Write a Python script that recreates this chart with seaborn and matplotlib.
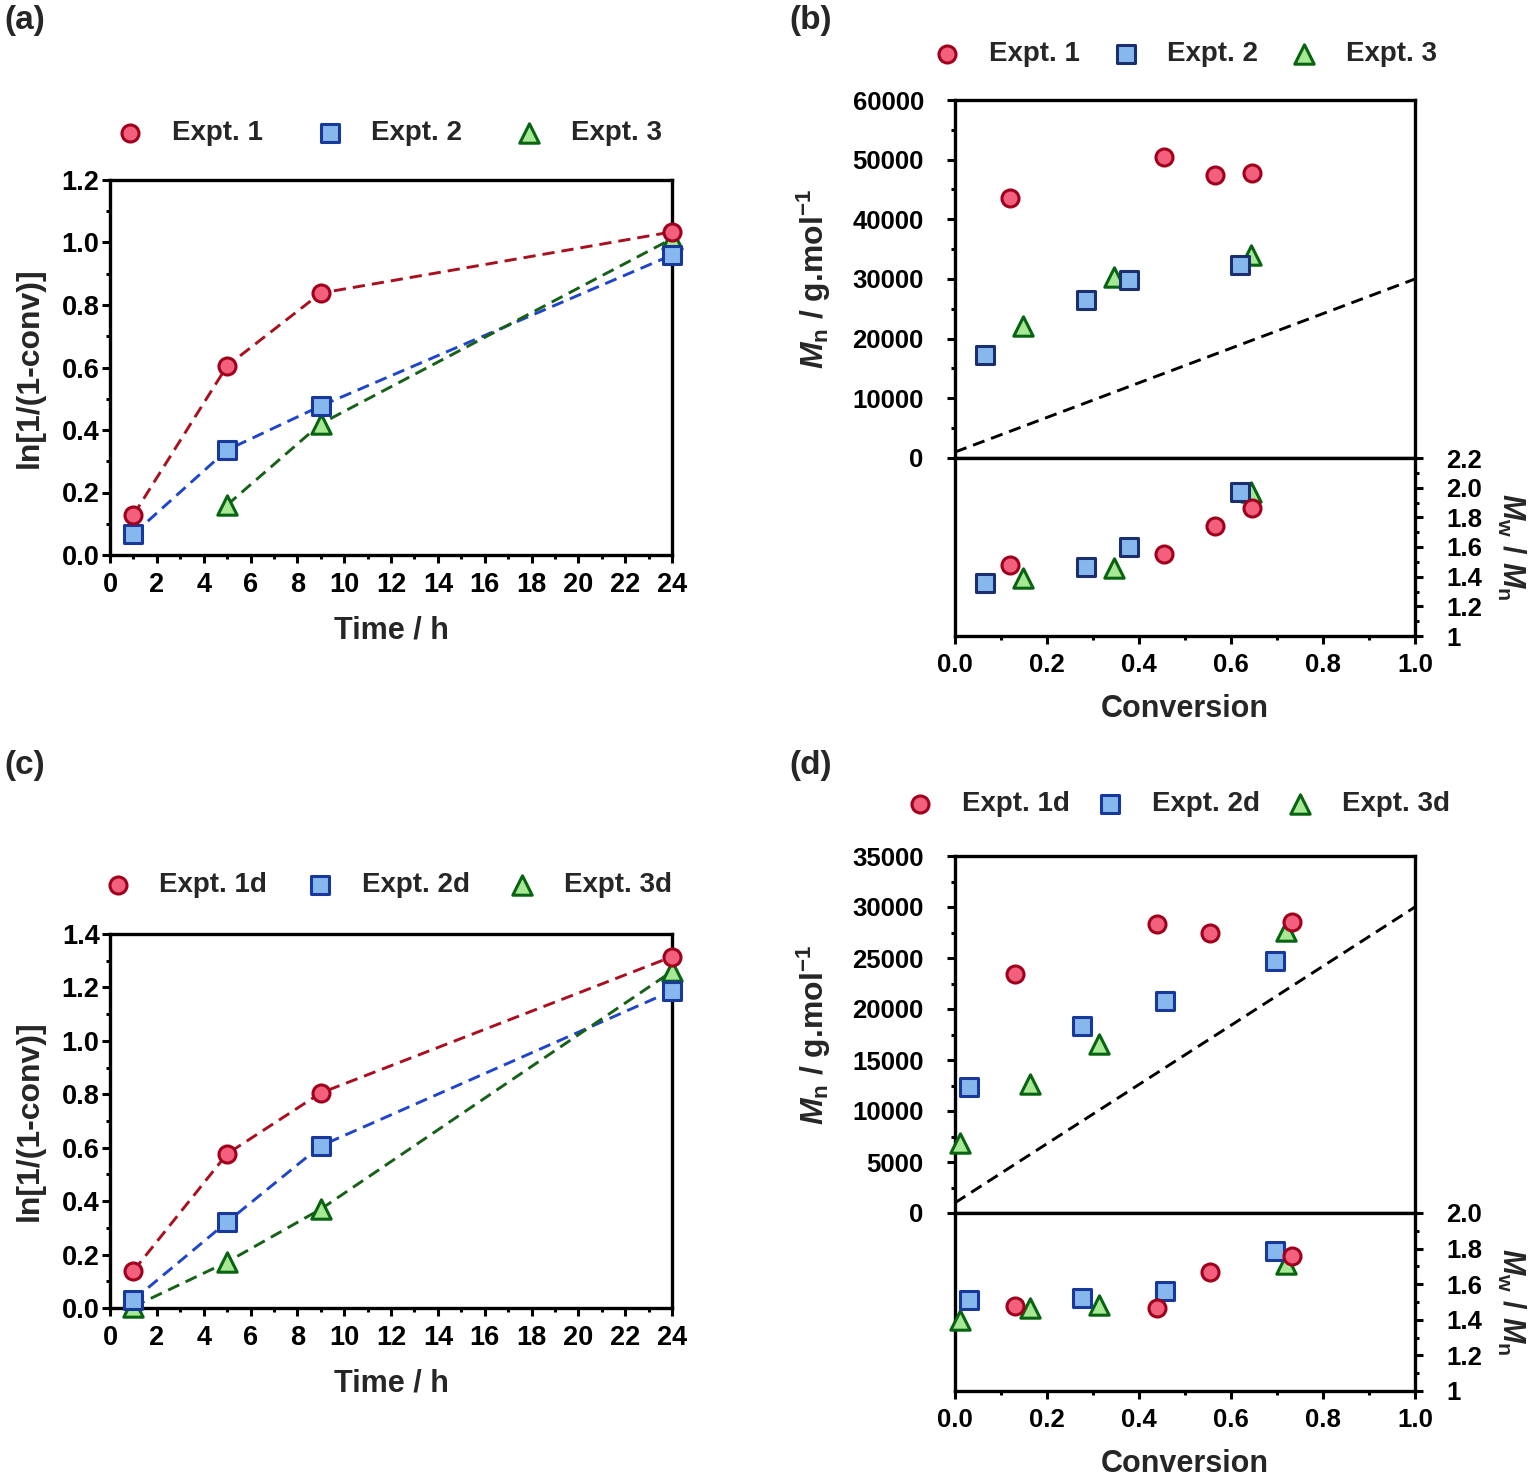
import matplotlib
matplotlib.use("Agg")
import matplotlib.pyplot as plt
from matplotlib.ticker import MultipleLocator, FixedLocator, FixedFormatter, FormatStrFormatter
import seaborn as sns

# ---------------- data ----------------
# (a) kinetics
time_a1 = [1, 5, 9, 24]
ln_a1 = [0.128, 0.605, 0.838, 1.034]
time_a2 = [1, 5, 9, 24]
ln_a2 = [0.067, 0.336, 0.477, 0.960]
time_a3 = [5, 9, 24]
ln_a3 = [0.160, 0.420, 1.012]

# (b) Mn and dispersity vs conversion
conv_b1 = [0.120, 0.454, 0.566, 0.645]
mn_b1 = [43600, 50500, 47500, 47800]
d_b1 = [1.477, 1.551, 1.743, 1.862]
conv_b2 = [0.065, 0.284, 0.378, 0.619]
mn_b2 = [17300, 26500, 29850, 32400]
d_b2 = [1.355, 1.466, 1.600, 1.973]
conv_b3 = [0.147, 0.345, 0.643]
mn_b3 = [22200, 30300, 34100]
d_b3 = [1.394, 1.461, 1.968]

# (c) kinetics
time_c1 = [1, 5, 9, 24]
ln_c1 = [0.139, 0.577, 0.805, 1.315]
time_c2 = [1, 5, 9, 24]
ln_c2 = [0.030, 0.322, 0.607, 1.187]
time_c3 = [1, 5, 9, 24]
ln_c3 = [0.005, 0.172, 0.370, 1.260]

# (d) Mn and dispersity vs conversion
conv_d1 = [0.130, 0.440, 0.555, 0.733]
mn_d1 = [23400, 28300, 27500, 28500]
d_d1 = [1.475, 1.469, 1.670, 1.758]
conv_d2 = [0.031, 0.276, 0.456, 0.695]
mn_d2 = [12350, 18350, 20800, 24700]
d_d2 = [1.510, 1.522, 1.560, 1.784]
conv_d3 = [0.010, 0.162, 0.312, 0.720]
mn_d3 = [6850, 12600, 16550, 27600]
d_d3 = [1.400, 1.465, 1.482, 1.713]

# theoretical Mn line
theo_conv = [0.0, 1.0]
theo_mn = [1000, 30000]

labels_ab = ["Expt. 1", "Expt. 2", "Expt. 3"]
labels_cd = ["Expt. 1d", "Expt. 2d", "Expt. 3d"]

mwmn_ticks_b = [1.0, 1.2, 1.4, 1.6, 1.8, 2.0, 2.2]
mwmn_labels_b = ["1", "1.2", "1.4", "1.6", "1.8", "2.0", "2.2"]
mwmn_ticks_d = [1.0, 1.2, 1.4, 1.6, 1.8, 2.0]
mwmn_labels_d = ["1", "1.2", "1.4", "1.6", "1.8", "2.0"]

# ---------------- style ----------------
sns.set_theme(style="ticks")
plt.rcParams["font.family"] = ["Liberation Sans", "DejaVu Sans"]
plt.rcParams["font.weight"] = "bold"
plt.rcParams["axes.labelweight"] = "bold"
plt.rcParams["mathtext.fontset"] = "custom"
plt.rcParams["mathtext.rm"] = "Liberation Sans:bold"
plt.rcParams["mathtext.it"] = "Liberation Sans:italic:bold"
plt.rcParams["mathtext.bf"] = "Liberation Sans:bold"
plt.rcParams["axes.linewidth"] = 2.4
plt.rcParams["xtick.major.width"] = 2.2
plt.rcParams["ytick.major.width"] = 2.2
plt.rcParams["xtick.minor.width"] = 2.2
plt.rcParams["ytick.minor.width"] = 2.2
plt.rcParams["xtick.major.size"] = 5.5
plt.rcParams["ytick.major.size"] = 5.5
plt.rcParams["xtick.minor.size"] = 3.0
plt.rcParams["ytick.minor.size"] = 3.0
plt.rcParams["xtick.color"] = "black"
plt.rcParams["ytick.color"] = "black"
plt.rcParams["axes.edgecolor"] = "black"

RED_F, RED_E, RED_L = "#f2607e", "#a0001c", "#a8101e"
BLU_F, BLU_E, BLU_L = "#86b8ee", "#18399a", "#1f45c8"
GRN_F, GRN_E, GRN_L = "#a6e894", "#086410", "#176017"
BLU_E2 = "#1b2f6e"

W, H = 1536, 1482
fig = plt.figure(figsize=(W / 100, H / 100), dpi=100)

def fx(px):
    return px / W

def fy(py):
    return 1 - py / H

DASH = (0, (4.2, 2.4))
S_CIR, S_SQ, S_TRI = 150, 150, 195
EW = 2.2


def scatter(ax, x, y, marker, face, edge, s, label=None):
    sns.scatterplot(x=x, y=y, ax=ax, marker=marker, s=s, color=face,
                    edgecolor=edge, linewidth=EW, zorder=4, clip_on=False,
                    label=label, legend=False)


def line(ax, x, y, color):
    sns.lineplot(x=x, y=y, ax=ax, color=color, linestyle=DASH, linewidth=2.1,
                 zorder=2, legend=False, errorbar=None)


def kinetics_panel(rect, series, labels, ymax, legend_xy, colsp, tick_fs=19.5):
    ax = fig.add_axes(rect)
    (t1, y1), (t2, y2), (t3, y3) = series
    line(ax, t1, y1, RED_L)
    line(ax, t2, y2, BLU_L)
    line(ax, t3, y3, GRN_L)
    scatter(ax, t3, y3, "^", GRN_F, GRN_E, S_TRI, labels[2])
    scatter(ax, t2, y2, "s", BLU_F, BLU_E, S_SQ, labels[1])
    scatter(ax, t1, y1, "o", RED_F, RED_E, S_CIR, labels[0])
    ax.set_xlim(0, 24)
    ax.set_ylim(0, ymax)
    ax.xaxis.set_major_locator(MultipleLocator(2))
    ax.xaxis.set_minor_locator(MultipleLocator(1))
    ax.yaxis.set_major_locator(MultipleLocator(0.2))
    ax.yaxis.set_minor_locator(MultipleLocator(0.1))
    ax.yaxis.set_major_formatter(FormatStrFormatter("%.1f"))
    ax.tick_params(axis="x", which="both", direction="out", labelsize=tick_fs, pad=7)
    ax.tick_params(axis="y", which="both", direction="out", labelsize=tick_fs, pad=2)
    for sp in ax.spines.values():
        sp.set_visible(True)
    ax.set_xlabel("Time / h", fontsize=22, labelpad=12)
    ax.set_ylabel("ln[1/(1-conv)]", fontsize=23, labelpad=12)
    h, l = ax.get_legend_handles_labels()
    order = [l.index(lab) for lab in labels]
    ax.legend([h[i] for i in order], [l[i] for i in order], ncol=3,
              loc="center", bbox_to_anchor=legend_xy,
              bbox_transform=fig.transFigure, frameon=False, fontsize=20,
              handletextpad=1.0, columnspacing=colsp, handlelength=1.0,
              borderaxespad=0, borderpad=0)
    return ax


def mn_panel(top, mid, bot, series, labels, ymax, ystep, ysub, dticks,
             dlabels, legend_xy, colsp, sq_edge, tick_fs=18.5):
    left, right = 955, 1415
    ax_u = fig.add_axes([fx(left), fy(mid), fx(right - left), (mid - top) / H])
    ax_l = fig.add_axes([fx(left), fy(bot), fx(right - left), (bot - mid) / H],
                        sharex=ax_u)
    (c1, m1, d1), (c2, m2, d2), (c3, m3, d3) = series
    line(ax_u, theo_conv, theo_mn, "black")
    scatter(ax_u, c3, m3, "^", GRN_F, GRN_E, S_TRI, labels[2])
    scatter(ax_u, c2, m2, "s", BLU_F, sq_edge, S_SQ, labels[1])
    scatter(ax_u, c1, m1, "o", RED_F, RED_E, S_CIR, labels[0])
    scatter(ax_l, c3, d3, "^", GRN_F, GRN_E, S_TRI)
    scatter(ax_l, c2, d2, "s", BLU_F, sq_edge, S_SQ)
    scatter(ax_l, c1, d1, "o", RED_F, RED_E, S_CIR)

    ax_u.set_xlim(0, 1)
    ax_u.set_ylim(0, ymax)
    ax_u.yaxis.set_major_locator(MultipleLocator(ystep))
    ax_u.yaxis.set_minor_locator(MultipleLocator(ysub))
    ax_u.tick_params(axis="x", which="both", bottom=False, top=False,
                     labelbottom=False)
    ax_u.tick_params(axis="y", which="both", left=True, right=False,
                     direction="out", labelsize=tick_fs, pad=17)
    for sp in ax_u.spines.values():
        sp.set_visible(True)
    ax_u.set_ylabel(r"$\mathit{M}_\mathrm{n}$ / g.mol$^{\mathrm{-1}}$",
                    fontsize=23, labelpad=14)
    ax_u.set_xlabel("")

    ax_l.set_ylim(dticks[0], dticks[-1])
    ax_l.yaxis.set_major_locator(FixedLocator(dticks))
    ax_l.yaxis.set_major_formatter(FixedFormatter(dlabels))
    ax_l.yaxis.set_minor_locator(MultipleLocator(0.1))
    ax_l.yaxis.set_label_position("right")
    ax_l.tick_params(axis="y", which="both", left=False, right=True,
                     labelleft=False, labelright=True, direction="out",
                     labelsize=tick_fs, pad=17)
    ax_l.xaxis.set_major_locator(MultipleLocator(0.2))
    ax_l.xaxis.set_minor_locator(MultipleLocator(0.1))
    ax_l.xaxis.set_major_formatter(FormatStrFormatter("%.1f"))
    ax_l.tick_params(axis="x", which="both", direction="out",
                     labelsize=tick_fs, pad=7, labelbottom=True)
    for sp in ax_l.spines.values():
        sp.set_visible(True)
    ax_l.set_xlabel("Conversion", fontsize=22, labelpad=12)
    ax_l.set_ylabel(r"$\mathit{M}_\mathrm{w}$ / $\mathit{M}_\mathrm{n}$",
                    fontsize=22, rotation=270, labelpad=32)

    h, l = ax_u.get_legend_handles_labels()
    order = [l.index(lab) for lab in labels]
    ax_u.legend([h[i] for i in order], [l[i] for i in order], ncol=3,
                loc="center", bbox_to_anchor=legend_xy,
                bbox_transform=fig.transFigure, frameon=False, fontsize=20,
                handletextpad=1.0, columnspacing=colsp, handlelength=1.0,
                borderaxespad=0, borderpad=0)
    return ax_u, ax_l


# (a)
kinetics_panel([fx(110), fy(555), fx(672 - 110), (555 - 180) / H],
               [(time_a1, ln_a1), (time_a2, ln_a2), (time_a3, ln_a3)],
               labels_ab, 1.2, (fx(389), fy(133)), 1.9)
# (c)
kinetics_panel([fx(110), fy(1308), fx(672 - 110), (1308 - 934) / H],
               [(time_c1, ln_c1), (time_c2, ln_c2), (time_c3, ln_c3)],
               labels_cd, 1.4, (fx(388), fy(885)), 1.4)
# (b)
mn_panel(100, 458, 636,
         [(conv_b1, mn_b1, d_b1), (conv_b2, mn_b2, d_b2), (conv_b3, mn_b3, d_b3)],
         labels_ab, 60000, 10000, 5000, mwmn_ticks_b, mwmn_labels_b,
         (fx(1185), fy(54)), 1.15, BLU_E2)
# (d)
mn_panel(856, 1213, 1391,
         [(conv_d1, mn_d1, d_d1), (conv_d2, mn_d2, d_d2), (conv_d3, mn_d3, d_d3)],
         labels_cd, 35000, 5000, 2500, mwmn_ticks_d, mwmn_labels_d,
         (fx(1178), fy(804)), 0.95, BLU_E)

for txt, x, y in [("(a)", 4, 20), ("(b)", 789, 20), ("(c)", 4, 765), ("(d)", 789, 765)]:
    fig.text(fx(x), fy(y), txt, ha="left", va="center", fontsize=24,
             fontweight="bold")

fig.savefig("out.png", dpi=100, facecolor="white")
